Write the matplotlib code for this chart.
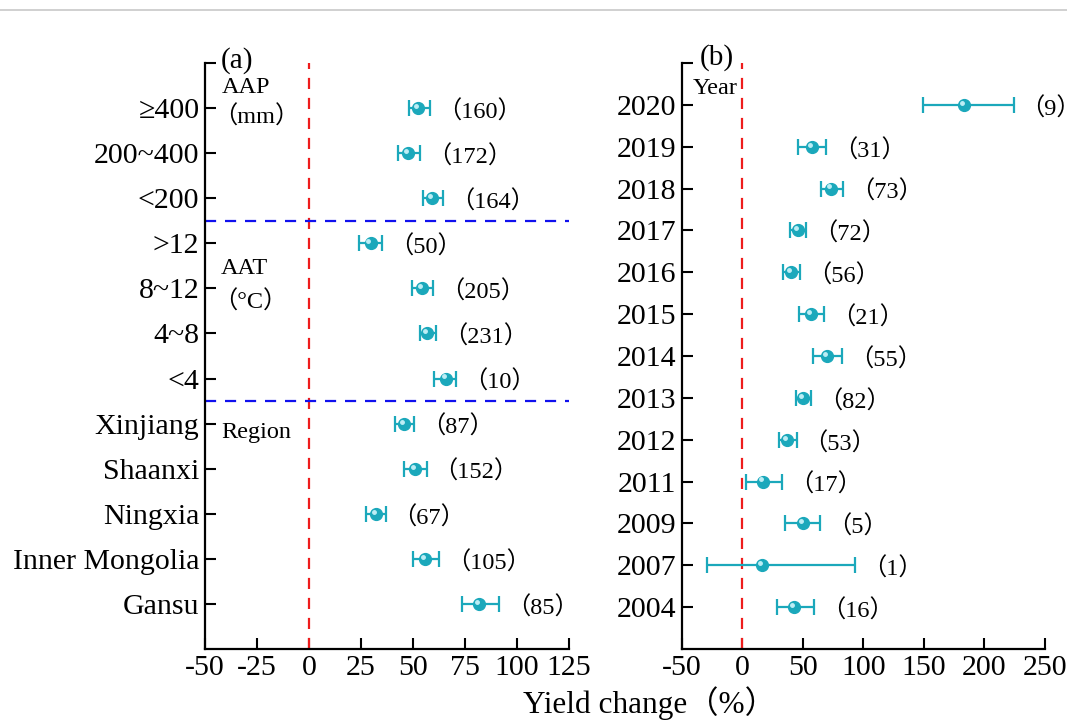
import numpy as np
import matplotlib
matplotlib.use("Agg")
import matplotlib.pyplot as plt
from matplotlib.lines import Line2D
from matplotlib.transforms import ScaledTranslation

plt.rcParams['font.family'] = ['Liberation Serif', 'Noto Sans CJK SC', 'DejaVu Sans']
plt.rcParams['axes.unicode_minus'] = False

# panel (a): climate / region groups (bottom to top)
cats_a = ['Gansu', 'Inner Mongolia', 'Ningxia', 'Shaanxi', 'Xinjiang',
          '<4', '4~8', '8~12', '>12', '<200', '200~400', '≥400']
mean_a = [81.9, 55.7, 32.1, 50.9, 45.9, 65.7, 56.8, 54.4, 29.6, 59.3, 47.4, 52.5]
low_a = [73.4, 50.1, 27.2, 45.6, 41.3, 60.1, 53.3, 49.5, 24.1, 54.6, 42.9, 48.0]
high_a = [91.4, 62.6, 36.8, 56.5, 50.6, 70.7, 61.0, 59.7, 35.3, 64.3, 53.3, 58.1]
n_a = [85, 105, 67, 152, 87, 10, 231, 205, 50, 164, 172, 160]

# panel (b): year (bottom to top)
years = ['2004', '2007', '2009', '2011', '2012', '2013', '2014',
         '2015', '2016', '2017', '2018', '2019', '2020']
mean_b = [42.6, 16.5, 50.3, 17.3, 37.1, 50.0, 70.1, 56.6, 40.4, 45.9, 73.4, 57.8, 183.4]
low_b = [28.3, -29.5, 35.5, 3.5, 30.2, 44.6, 58.6, 46.7, 33.8, 39.6, 64.9, 45.9, 149.0]
high_b = [59.1, 93.5, 64.6, 33.0, 44.8, 56.6, 82.2, 67.9, 47.5, 52.5, 83.0, 69.3, 224.1]
n_b = [16, 1, 5, 17, 53, 82, 55, 21, 56, 72, 73, 31, 9]

teal = '#1ba8bb'
W, H = 1067, 725
note_fs = 17.5


def forest(ax, labels, mean, low, high, n, xlim, xticks):
    mean = np.array(mean)
    y = np.arange(1, len(labels) + 1)
    err = [mean - np.array(low), np.array(high) - mean]
    ax.errorbar(mean, y, xerr=err, fmt='none', ecolor=teal, elinewidth=1.6,
                capsize=6, capthick=1.6, zorder=3)
    ax.plot(mean, y, 'o', color=teal, ms=8.5, zorder=4)
    # little highlight to mimic the shaded sphere
    shift = ScaledTranslation(-1.5 / 72, 1.5 / 72, ax.figure.dpi_scale_trans)
    ax.plot(mean, y, 'o', color='#bdeef5', ms=2.5, zorder=5, transform=ax.transData + shift)
    for xi, yi, c in zip(high, y, n):
        ax.annotate('（%d）' % c, xy=(xi, yi), xytext=(5, -1),
                    textcoords='offset points', va='center_baseline', ha='left',
                    fontsize=note_fs, annotation_clip=False)
    ax.axvline(0, color='#ee1c1c', ls=(0, (5, 4)), lw=1.6, zorder=2)
    ax.set_xlim(*xlim)
    ax.set_ylim(0, len(labels) + 1)
    ax.set_xticks(xticks)
    ax.set_xticklabels([str(t) for t in xticks])
    ax.set_yticks(list(y) + [len(labels) + 1])
    ax.set_yticklabels(labels + [''])
    ax.spines['top'].set_visible(False)
    ax.spines['right'].set_visible(False)
    for s in ['left', 'bottom']:
        ax.spines[s].set_linewidth(1.6)
    ax.tick_params(direction='in', length=8, width=1.5, labelsize=21.5, pad=4)


fig = plt.figure(figsize=(W / 100, H / 100), dpi=100)
ax1 = fig.add_axes([205 / W, 1 - 649 / H, 364 / W, 586 / H])
ax2 = fig.add_axes([681.7 / W, 1 - 649 / H, 363.3 / W, 586 / H])

forest(ax1, cats_a, mean_a, low_a, high_a, n_a, (-50, 125), [-50, -25, 0, 25, 50, 75, 100, 125])
forest(ax2, years, mean_b, low_b, high_b, n_b, (-50, 250), [-50, 0, 50, 100, 150, 200, 250])

for yl in [9.5, 5.5]:
    ax1.axhline(yl, color='#1010ee', ls=(0, (5, 4)), lw=1.6, zorder=2, clip_on=False)

ax1.text(-42, 12.45, 'AAP', fontsize=note_fs, va='center', ha='left')
ax1.text(-46, 11.85, '（mm）', fontsize=note_fs, va='center_baseline', ha='left')
ax1.text(-42.5, 8.45, 'AAT', fontsize=note_fs, va='center', ha='left')
ax1.text(-46, 7.75, '（°C）', fontsize=note_fs, va='center_baseline', ha='left')
ax1.text(-42, 4.8, 'Region', fontsize=note_fs, va='center', ha='left')
ax2.text(-41, 13.4, 'Year', fontsize=note_fs, va='center', ha='left')

ax1.text(-42.5, 13.05, '(a)', fontsize=21, va='center', ha='left', clip_on=False)
ax2.text(-35.5, 14.13, '(b)', fontsize=21, va='center', ha='left', clip_on=False)

fig.text(523 / W, 1 - 713 / H, 'Yield change（%）', fontsize=22.5,
         va='baseline', ha='left')

fig.add_artist(Line2D([0, 1], [1 - 10 / H, 1 - 10 / H], color='#c8c8c8', lw=1.2))

fig.savefig('out.png', dpi=100)
